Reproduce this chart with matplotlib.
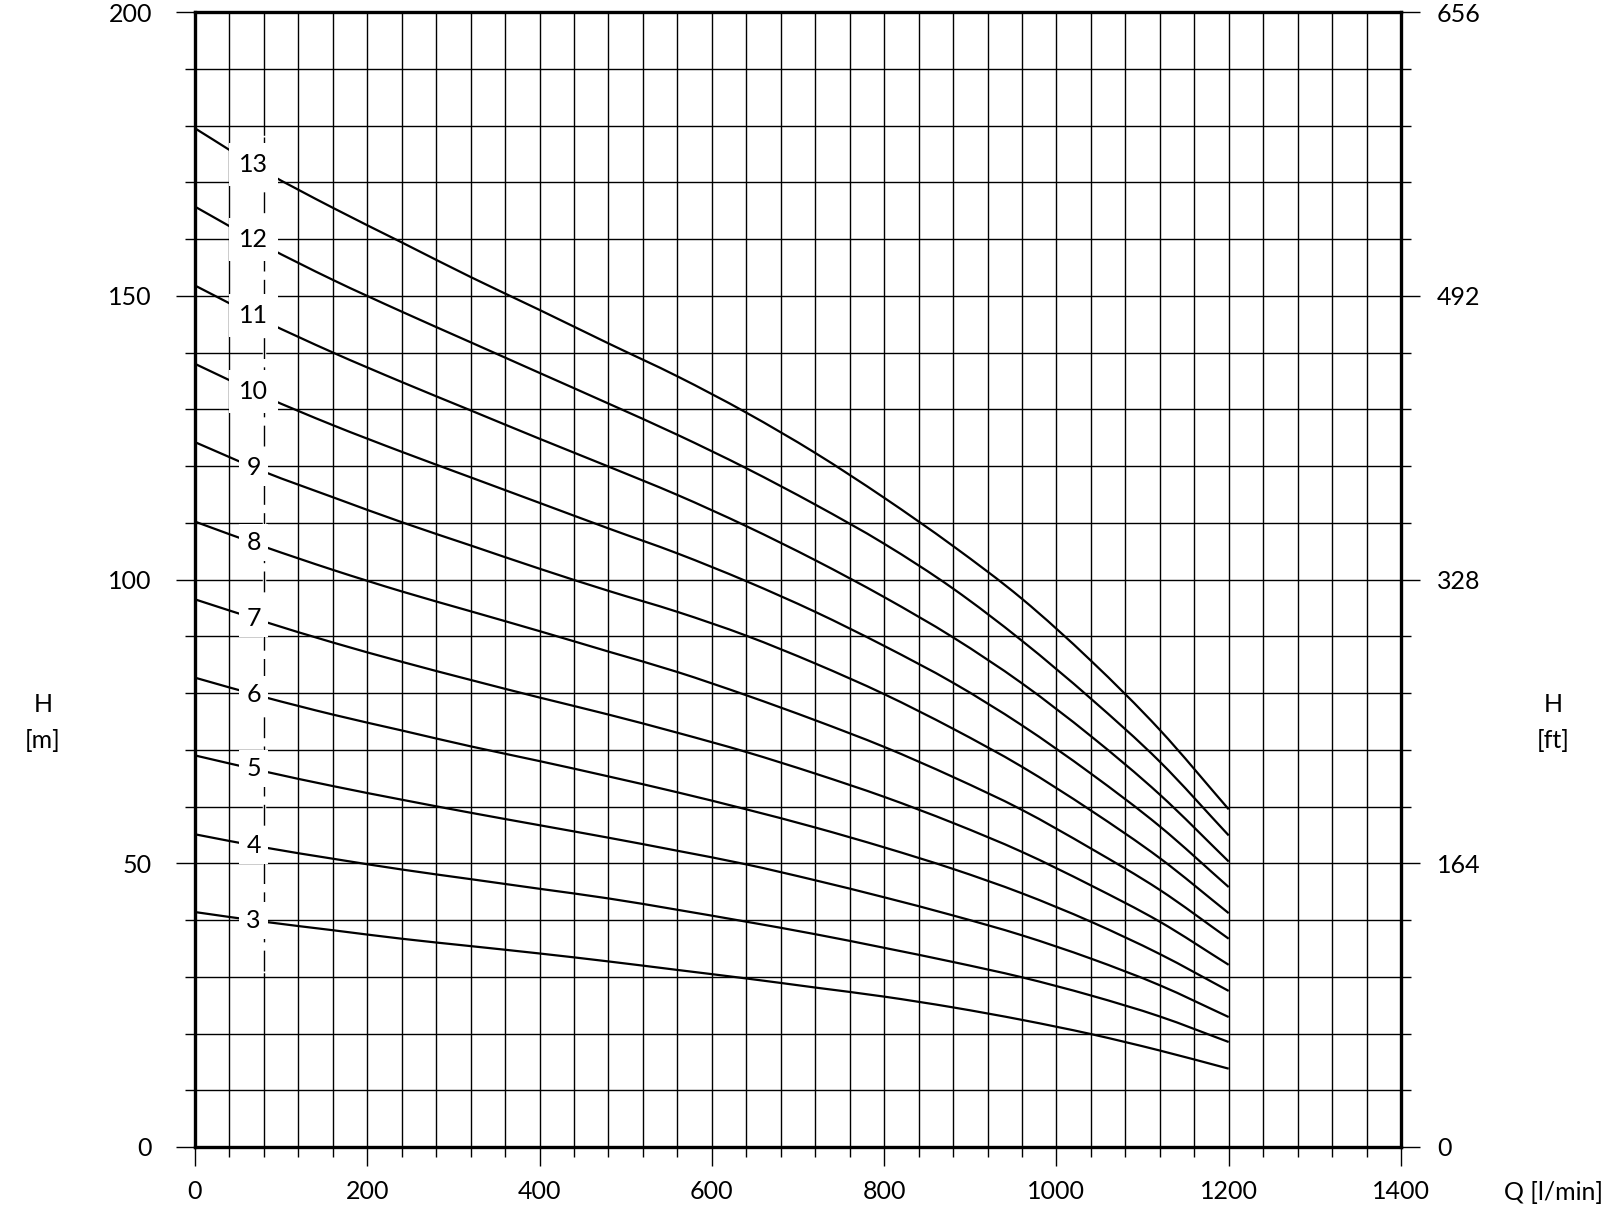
import numpy as np
import matplotlib
matplotlib.use("Agg")
import matplotlib.pyplot as plt
from matplotlib.path import Path
from matplotlib.patches import PathPatch
from matplotlib.ticker import MultipleLocator

plt.rcParams["font.family"] = ["Lato", "DejaVu Sans"]

# flow points (l/min) where each curve was read
flow = [0, 80, 160, 240, 320, 400, 480, 560, 640, 720, 800, 880, 960, 1040, 1120, 1200]

# head (m) for each stage count
head_13 = [179.5, 172.0, 165.5, 159.4, 153.3, 147.5, 141.6, 135.8, 129.4, 122.3, 114.4, 105.9, 96.6, 85.7, 73.5, 59.5]
head_12 = [165.7, 158.9, 152.8, 147.2, 141.8, 136.4, 131.0, 125.5, 119.6, 113.2, 106.3, 98.4, 89.2, 79.0, 67.9, 54.9]
head_11 = [151.8, 145.6, 140.0, 134.8, 129.8, 124.8, 119.9, 114.9, 109.4, 103.4, 96.9, 89.8, 81.7, 72.4, 62.1, 50.3]
head_10 = [138.0, 132.3, 127.2, 122.5, 118.0, 113.5, 109.0, 104.6, 99.7, 94.3, 88.3, 81.8, 74.3, 65.8, 56.5, 45.8]
head_9 = [124.2, 119.0, 114.5, 110.1, 106.0, 101.9, 98.0, 94.3, 90.1, 85.2, 79.8, 73.7, 67.0, 59.3, 50.9, 41.2]
head_8 = [110.2, 105.8, 101.7, 97.9, 94.4, 90.9, 87.3, 83.7, 79.6, 75.2, 70.5, 65.2, 59.4, 52.6, 45.3, 36.7]
head_7 = [96.5, 92.6, 88.9, 85.5, 82.3, 79.2, 76.2, 73.0, 69.6, 65.8, 61.7, 57.1, 52.0, 46.1, 39.7, 32.1]
head_6 = [82.7, 79.3, 76.2, 73.4, 70.6, 68.0, 65.3, 62.5, 59.5, 56.3, 52.8, 49.0, 44.7, 39.7, 34.0, 27.5]
head_5 = [69.0, 66.2, 63.6, 61.2, 58.9, 56.7, 54.5, 52.2, 49.8, 47.0, 44.0, 40.8, 37.3, 33.2, 28.5, 22.9]
head_4 = [55.1, 52.8, 50.8, 48.9, 47.2, 45.5, 43.8, 41.8, 39.7, 37.5, 35.1, 32.6, 29.9, 26.7, 23.0, 18.5]
head_3 = [41.4, 39.7, 38.2, 36.7, 35.4, 34.1, 32.7, 31.2, 29.7, 28.1, 26.5, 24.6, 22.4, 19.9, 17.0, 13.8]

stages = [13, 12, 11, 10, 9, 8, 7, 6, 5, 4, 3]
curves = [head_13, head_12, head_11, head_10, head_9, head_8, head_7, head_6, head_5, head_4, head_3]

right_ticks = [0, 50, 100, 150, 200]
right_labels = ["0", "164", "328", "492", "656"]

label_q = 68  # where the stage numbers sit on the curves
FS = 18


def smooth_path(x, y):
    """Bezier path through the read points (cubic Hermite tangents)."""
    x = np.asarray(x, float)
    y = np.asarray(y, float)
    m = np.gradient(y, x)
    verts = [(x[0], y[0])]
    codes = [Path.MOVETO]
    for i in range(len(x) - 1):
        d = (x[i + 1] - x[i]) / 3
        verts += [(x[i] + d, y[i] + m[i] * d), (x[i + 1] - d, y[i + 1] - m[i + 1] * d), (x[i + 1], y[i + 1])]
        codes += [Path.CURVE4] * 3
    return Path(verts, codes)


fig = plt.figure(figsize=(16.09, 12.11), dpi=100)
ax = fig.add_axes([195 / 1609, 64 / 1211, 1206 / 1609, 1135 / 1211])

ax.set_xlim(0, 1400)
ax.set_ylim(0, 200)
ax.xaxis.set_major_locator(MultipleLocator(200))
ax.xaxis.set_minor_locator(MultipleLocator(40))
ax.yaxis.set_major_locator(MultipleLocator(50))
ax.yaxis.set_minor_locator(MultipleLocator(10))

ax.grid(which="both", color="black", linewidth=1.0, zorder=1)
ax.set_axisbelow(True)
# the 80 l/min grid line is dashed through the label column
ax.axvline(80, color="white", linewidth=2.5, zorder=1.5, ymin=31 / 200, ymax=178 / 200)
ax.plot([80, 80], [31, 178], color="black", linewidth=1.0, dashes=(15, 6), zorder=1.6)

for st, h in zip(stages, curves):
    ax.add_patch(PathPatch(smooth_path(flow, h), facecolor="none", edgecolor="black",
                           linewidth=1.6, zorder=3))
    y_lab = np.interp(label_q, flow, h)
    ax.text(label_q, y_lab, str(st), ha="center", va="center", fontsize=FS, zorder=4,
            bbox=dict(facecolor="white", edgecolor="none", pad=7 if st >= 10 else 5))

for sp in ax.spines.values():
    sp.set_linewidth(2.4)
    sp.set_zorder(5)

ax.tick_params(which="major", direction="out", length=14, width=1.0, labelsize=FS)
ax.tick_params(which="minor", direction="out", length=7, width=1.0)
ax.tick_params(axis="y", which="major", pad=17)
ax.tick_params(axis="x", which="major", pad=10)

ax2 = ax.twinx()
ax2.set_ylim(0, 200)
ax2.set_yticks(right_ticks)
ax2.set_yticklabels(right_labels)
ax2.yaxis.set_minor_locator(MultipleLocator(10))
ax2.tick_params(which="major", direction="out", length=14, width=1.0, labelsize=FS, pad=12)
ax2.tick_params(which="minor", direction="out", length=7, width=1.0)
for sp in ax2.spines.values():
    sp.set_visible(False)

fig.text(43 / 1609, 1 - 705 / 1211, "H", ha="center", va="center", fontsize=FS)
fig.text(43 / 1609, 1 - 741 / 1211, "[m]", ha="center", va="center", fontsize=FS)
fig.text(1553 / 1609, 1 - 705 / 1211, "H", ha="center", va="center", fontsize=FS)
fig.text(1553 / 1609, 1 - 741 / 1211, "[ft]", ha="center", va="center", fontsize=FS)
fig.text(1553 / 1609, 1 - 1192 / 1211, "Q [l/min]", ha="center", va="center", fontsize=FS)

fig.savefig("out.png", dpi=100, facecolor="white")
